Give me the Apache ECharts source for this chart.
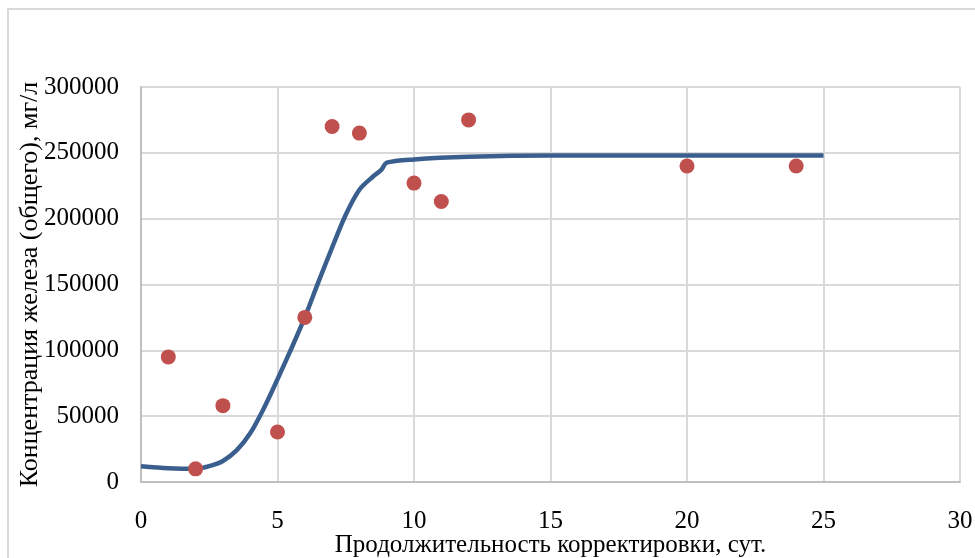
<!DOCTYPE html>
<html>
<head>
<meta charset="utf-8">
<script src="https://cdn.jsdelivr.net/npm/echarts@6/dist/echarts.min.js"></script>
<style>
  html, body { margin: 0; padding: 0; background: #fff; }
  #main { width: 975px; height: 558px; }
</style>
</head>
<body>
<div id="main"></div>
<script>
// измеренные точки
const pointDays = [1, 2, 3, 5, 6, 7, 8, 10, 11, 12, 20, 24];
const pointValues = [95000, 10000, 58000, 38000, 125000, 270000, 265000, 227000, 213000, 275000, 240000, 240000];

// расчётная кривая
const curveDays = [0, 1, 2, 2.5, 3, 3.5, 4, 4.5, 5, 5.5, 6, 6.5, 7, 7.5, 8, 8.5, 8.8, 9, 10, 12, 15, 20, 25];
const curveValues = [12000, 10500, 10000, 12000, 16000, 24000, 37000, 56000, 78000, 101000, 125000, 152000, 178000, 203000, 222000, 232000, 237000, 242500, 245000, 247000, 248000, 248000, 248000];

const xTicks = [0, 5, 10, 15, 20, 25, 30];
const yTicks = [0, 50000, 100000, 150000, 200000, 250000, 300000];

const font = 'Liberation Serif';
const chart = echarts.init(document.getElementById('main'), null, { renderer: 'canvas' });

const option = {
  animation: false,
  backgroundColor: '#fff',
  graphic: [{
    type: 'rect',
    shape: { x: 8, y: 9, width: 1000, height: 600 },
    style: { fill: 'none', stroke: '#d9d9d9', lineWidth: 2 },
    silent: true
  }],
  grid: { left: 141, right: 15, top: 87, bottom: 76, outerBoundsMode: 'none', containLabel: false },
  xAxis: {
    type: 'value',
    min: xTicks[0],
    max: xTicks[xTicks.length - 1],
    interval: 5,
    name: 'Продолжительность корректировки, сут.',
    nameLocation: 'middle',
    nameGap: 51,
    nameMoveOverlap: false,
    nameTextStyle: { fontFamily: font, fontSize: 25, color: '#000' },
    axisLine: { lineStyle: { color: '#bfbfbf', width: 2 } },
    axisTick: { show: false },
    axisLabel: { fontFamily: font, fontSize: 25, color: '#000', margin: 27 },
    splitLine: { lineStyle: { color: '#d9d9d9', width: 2 } }
  },
  yAxis: {
    type: 'value',
    min: yTicks[0],
    max: yTicks[yTicks.length - 1],
    interval: 50000,
    name: 'Концентрация железа (общего), мг/л',
    nameLocation: 'middle',
    nameGap: 98,
    nameMoveOverlap: false,
    nameTextStyle: { fontFamily: font, fontSize: 26, color: '#000' },
    axisLine: { show: true, lineStyle: { color: '#bfbfbf', width: 2 } },
    axisTick: { show: false },
    axisLabel: { fontFamily: font, fontSize: 25, color: '#000', margin: 22, formatter: v => String(v) },
    splitLine: { lineStyle: { color: '#d9d9d9', width: 2 } }
  },
  series: [
    {
      type: 'line',
      data: curveDays.map((d, i) => [d, curveValues[i]]),
      smooth: 0.3,
      showSymbol: false,
      lineStyle: { color: '#3a5f8f', width: 4.5 },
      z: 2
    },
    {
      type: 'scatter',
      data: pointDays.map((d, i) => [d, pointValues[i]]),
      symbolSize: 15,
      itemStyle: { color: '#c0504d', opacity: 1 },
      z: 3
    }
  ]
};

chart.setOption(option);
</script>
</body>
</html>
